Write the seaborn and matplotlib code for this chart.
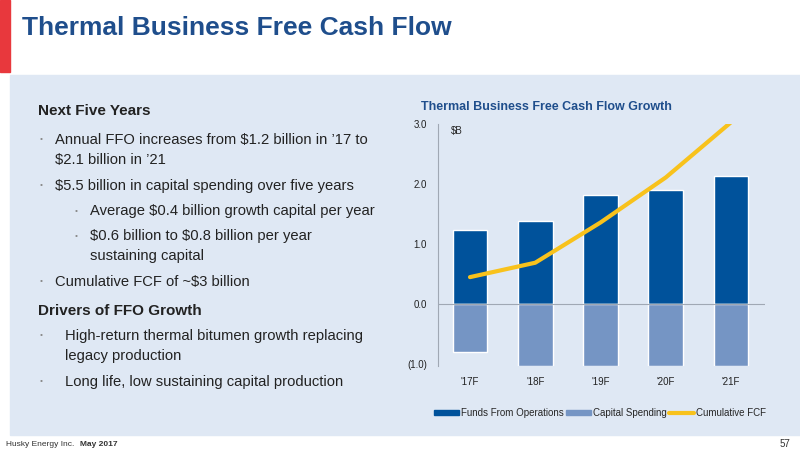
import numpy as np
import pandas as pd
import seaborn as sns
import matplotlib.pyplot as plt
from matplotlib.patches import Rectangle
from matplotlib.lines import Line2D

# chart data ($B)
years = ["'17F", "'18F", "'19F", "'20F", "'21F"]
ffo = [1.24, 1.38, 1.82, 1.90, 2.13]
capex = [-0.80, -1.03, -1.03, -1.03, -1.03]
cum_fcf = [0.45, 0.69, 1.36, 2.11, 3.03]

navy = "#1f4e8c"
dark_blue = "#00529b"
light_blue = "#7595c4"
gold = "#f8c21c"
panel = "#dfe8f4"

sns.set_style("white")
plt.rcParams['font.family'] = ['Liberation Sans', 'DejaVu Sans']
plt.rcParams['text.parse_math'] = False

fig = plt.figure(figsize=(8, 4.5), dpi=100)
W, H = 800, 450

def fx(x):
    return x / W

def fy(y):
    return 1 - y / H

# slide background in an axes of its own, behind everything
bg = fig.add_axes([0, 0, 1, 1], zorder=-1)
bg.set_xlim(0, W)
bg.set_ylim(H, 0)
bg.axis("off")
bg.add_patch(Rectangle((10, 75), 790, 360, color=panel))
bg.add_patch(Rectangle((0, 0), 10, 72, color="#e8383d"))

fig.text(fx(22), fy(28), "Thermal Business Free Cash Flow", color=navy, fontsize=19,
         fontweight="bold", va="center")

# left text block
body = 10.6
fig.text(fx(38), fy(111), "Next Five Years", fontsize=11, fontweight="bold", color="#222222", va="center")
lines = [
    (0, 140, "Annual FFO increases from $1.2 billion in \u201917 to"),
    (0, 160, None, "$2.1 billion in \u201921"),
    (0, 186, "$5.5 billion in capital spending over five years"),
    (1, 211, "Average $0.4 billion growth capital per year"),
    (1, 236, "$0.6 billion to $0.8 billion per year"),
    (1, 256, None, "sustaining capital"),
    (0, 282, "Cumulative FCF of ~$3 billion"),
]
for item in lines:
    lvl, y = item[0], item[1]
    x0 = 55 if lvl == 0 else 90
    if item[2] is None:
        fig.text(fx(x0), fy(y), item[3], fontsize=body, color="#222222", va="center")
    else:
        fig.text(fx(x0 - 15), fy(y), "\u2022", fontsize=6, color="#888888", va="center")
        fig.text(fx(x0), fy(y), item[2], fontsize=body, color="#222222", va="center")
fig.text(fx(38), fy(311), "Drivers of FFO Growth", fontsize=11, fontweight="bold", color="#222222", va="center")
for x0, y, t, bullet in [(65, 336, "High-return thermal bitumen growth replacing", True),
                         (65, 356, "legacy production", False),
                         (65, 382, "Long life, low sustaining capital production", True)]:
    if bullet:
        fig.text(fx(40), fy(y), "\u2022", fontsize=6, color="#888888", va="center")
    fig.text(fx(x0), fy(y), t, fontsize=body, color="#222222", va="center")

# footer
fig.text(fx(6), fy(444), "Husky Energy Inc.", fontsize=6, color="#333333", va="center")
fig.text(fx(80), fy(444), "May 2017", fontsize=6, color="#333333", fontweight="bold", va="center")
fig.text(fx(790), fy(444), "57", fontsize=7, color="#333333", va="center", ha="right")

# chart
ax = fig.add_axes([fx(438), fy(366), fx(765) - fx(438), fy(124) - fy(366)])
ax.set_facecolor("none")
df = pd.DataFrame({"year": years, "ffo": ffo, "capex": capex, "fcf": cum_fcf})
sns.barplot(data=df, x="year", y="ffo", color=dark_blue, width=0.53, saturation=1, ax=ax)
sns.barplot(data=df, x="year", y="capex", color=light_blue, width=0.53, saturation=1, ax=ax)
sns.lineplot(data=df, x="year", y="fcf", color=gold, linewidth=3, sort=False, ax=ax)
ax.axhline(0, color="#a0a8b4", linewidth=0.8)
ax.set_ylim(-1.03, 3.0)
ax.set_yticks([-1, 0, 1, 2, 3])
ax.set_yticklabels(["(1.0)", "0.0", "1.0", "2.0", "3.0"])
ax.set_xlim(-0.49, 4.52)
ax.set_xlabel("")
ax.set_ylabel("")
ax.tick_params(axis="both", labelsize=7, colors="#222222", length=0, pad=8)
for s in ["top", "right", "bottom"]:
    ax.spines[s].set_visible(False)
ax.spines["left"].set_color("#a0a8b4")
ax.spines["left"].set_linewidth(0.8)
ax.text(0.04, 2.97, "$B", transform=ax.get_yaxis_transform(), fontsize=7, va="top")
fig.text(fx(421), fy(107), "Thermal Business Free Cash Flow Growth", fontsize=9, fontweight="bold", color=navy, va="center")

handles = [Rectangle((0, 0), 1, 1, color=dark_blue), Rectangle((0, 0), 1, 1, color=light_blue),
           Line2D([], [], color=gold, linewidth=3)]
fig.legend(handles, ["Funds From Operations", "Capital Spending", "Cumulative FCF"],
           loc="center", bbox_to_anchor=(fx(600), fy(413)), ncol=3, frameon=False, fontsize=7,
           handlelength=2.5, handleheight=0.5, columnspacing=0.3, handletextpad=0.2)

fig.savefig("out.png", dpi=100)
